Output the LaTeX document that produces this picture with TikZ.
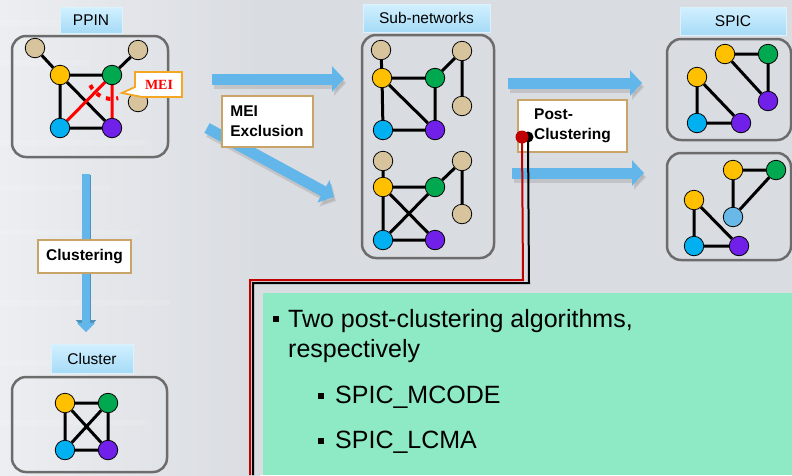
\documentclass[tikz,border=0pt]{standalone}
\usepackage{fontspec}
\setmainfont{Liberation Sans}
\newfontfamily\serifb{Liberation Serif}
\usetikzlibrary{arrows.meta,backgrounds}
\pgfdeclarelayer{bg}\pgfdeclarelayer{edges}
\pgfsetlayers{bg,edges,main}
\definecolor{bgray}{HTML}{D9DCE1}
\definecolor{blight}{HTML}{ECEEF1}
\definecolor{ctan}{HTML}{D8C49C}
\definecolor{cyel}{HTML}{FFC000}
\definecolor{cgrn}{HTML}{00A850}
\definecolor{ccya}{HTML}{00B0F0}
\definecolor{cpur}{HTML}{7020E8}
\definecolor{clbl}{HTML}{68B8E8}
\definecolor{arrblue}{HTML}{62B6E9}
\definecolor{tagtop}{HTML}{D2F0FF}
\definecolor{tagbot}{HTML}{A6DBF7}
\definecolor{boxtan}{HTML}{C8A468}
\definecolor{meiorange}{HTML}{F5A623}
\definecolor{mint}{HTML}{8EE9C5}
\definecolor{dred}{HTML}{C00000}
\tikzset{
  nd/.style={circle,draw=black,line width=0.8pt,minimum size=19.5pt,inner sep=0pt},
  ed/.style={line width=3pt,black},
  redge/.style={line width=3pt,red},
  roundbox/.style={draw=gray!85!black,line width=2.5pt,rounded corners=14pt,inner sep=0pt},
  tagbox/.style={top color=tagtop,bottom color=tagbot,draw=white!60!tagbot,line width=0.6pt,inner sep=0pt,font=\fontsize{15.5}{18}\selectfont},
  notebox/.style={fill=white,draw=boxtan,line width=2pt,inner sep=0pt,align=left,font=\bfseries\fontsize{15.5}{19.5}\selectfont},
  blockarrow/.style={line width=11pt,arrblue,-{Triangle[length=12pt,width=25pt]}},
  arrshadow/.style={line width=11pt,gray!70,opacity=0.45,-{Triangle[length=12pt,width=25pt]}},
  bigtext/.style={anchor=base west,inner sep=0pt,font=\fontsize{25}{30}\selectfont},
  sqbullet/.style={fill=black,minimum size=6pt,inner sep=0pt}
}
\begin{document}
\begin{tikzpicture}[x=1pt,y=-1pt]
\useasboundingbox (0,0) rectangle (792,475);
\begin{pgfonlayer}{bg}
\fill[bgray] (0,0) rectangle (792,475);
\fill[left color=blight,right color=bgray] (0,0) rectangle (260,475);
\foreach \yy/\ww in {20/120,60/90,140/150,185/110,230/140,300/170,360/120,420/150}
  \fill[white,opacity=0.12] (0,\yy) rectangle (\ww,\yy+5);
% rounded boxes
\node[roundbox,minimum width=156pt,minimum height=121pt] (ppinbox) at (90,96.5) {};
\node[roundbox,minimum width=132pt,minimum height=223pt] (subbox) at (428,146.5) {};
\node[roundbox,minimum width=124pt,minimum height=101pt] (spicA) at (729,89.5) {};
\node[roundbox,minimum width=124pt,minimum height=107pt] (spicB) at (729,206.5) {};
\node[roundbox,minimum width=155pt,minimum height=95pt] (clbox) at (89.5,424.5) {};
% block arrows
\coordinate (a1s) at (212,79); \coordinate (a1e) at (344,79);
\coordinate (a2s) at (207,128); \coordinate (a2e) at (334,197);
\coordinate (a3s) at (508,83); \coordinate (a3e) at (642,83);
\coordinate (a4s) at (512,173); \coordinate (a4e) at (644,173);
\coordinate (a5s) at (86,175); \coordinate (a5e) at (86,331);
\foreach \s/\e in {a1s/a1e,a2s/a2e,a3s/a3e,a4s/a4e}{
  \draw[arrshadow] ([shift={(2,4)}]\s) -- ([shift={(2,4)}]\e);
  \draw[blockarrow] (\s) -- (\e);
}
\draw[line width=9pt,arrblue!80!black,-{Triangle[length=11pt,width=20pt]}] (a5s) -- (a5e);
\draw[line width=7.5pt,arrblue,-{Triangle[length=9pt,width=17pt]}] ([yshift=0.8]a5s) -- ([yshift=-1.2]a5e);
% connector lines
\coordinate (rdot) at (522,137); \coordinate (rk1) at (523,280); \coordinate (rk2) at (250,280); \coordinate (rend) at (250,475);
\coordinate (bdot) at (528,137); \coordinate (bk1) at (529,283); \coordinate (bk2) at (253,283); \coordinate (bend) at (253,475);
\fill[mint] (263,293) rectangle (792,475);
\end{pgfonlayer}
% ---------- PPIN ----------
\node[tagbox,minimum width=62pt,minimum height=26pt] (ppintag) at (91,20) {PPIN};
\node[nd,fill=ctan] (p1) at (35,48) {};
\node[nd,fill=cyel] (p2) at (60,75) {};
\node[nd,fill=cgrn] (p3) at (112,75) {};
\node[nd,fill=ctan] (p4) at (138,50) {};
\node[nd,fill=ctan] (p5) at (138,102) {};
\node[nd,fill=ccya] (p6) at (60,128) {};
\node[nd,fill=cpur] (p7) at (112,128) {};
\begin{pgfonlayer}{edges}
\draw[ed] (p1)--(p2) (p2)--(p3) (p3)--(p4) (p2)--(p6) (p2)--(p7) (p6)--(p7);
\draw[redge] (p6)--(p3) (p3)--(p7);
\end{pgfonlayer}
\draw[red,line width=4pt,dash pattern=on 4.5pt off 6pt] ([shift={(155:24)}]p3.center) arc[start angle=155,end angle=75,radius=24];
% MEI callout
\coordinate (meitip) at (122,93);
\filldraw[fill=white,draw=meiorange,line width=1.8pt] (135,72) -- (182,72) -- (182,97) -- (142,97) -- (meitip) -- (135,87) -- cycle;
\node[text=red,font=\serifb\bfseries\fontsize{14}{16}\selectfont] (mei) at (159,84.5) {MEI};
% MEI Exclusion
\node[notebox,minimum width=91pt,minimum height=51pt] (meiex) at (267,121) {MEI\\Exclusion};
% ---------- Sub-networks ----------
\node[tagbox,minimum width=127pt,minimum height=28pt] (subtag) at (426.5,18) {Sub-networks};
\node[nd,fill=ctan] (s1) at (381,50) {};
\node[nd,fill=cyel] (s2) at (382,78) {};
\node[nd,fill=cgrn] (s3) at (435,78) {};
\node[nd,fill=ctan] (s4) at (462,51) {};
\node[nd,fill=ctan] (s5) at (462,106) {};
\node[nd,fill=ccya] (s6) at (383,130) {};
\node[nd,fill=cpur] (s7) at (435,130) {};
\node[nd,fill=ctan] (u1) at (383,161) {};
\node[nd,fill=cyel] (u2) at (383,187) {};
\node[nd,fill=cgrn] (u3) at (435,187) {};
\node[nd,fill=ctan] (u4) at (462,161) {};
\node[nd,fill=ctan] (u5) at (462,214) {};
\node[nd,fill=ccya] (u6) at (383,240) {};
\node[nd,fill=cpur] (u7) at (435,240) {};
\begin{pgfonlayer}{edges}
\draw[ed] (s1)--(s2) (s2)--(s3) (s3)--(s4) (s4)--(s5) (s2)--(s6) (s2)--(s7) (s3)--(s7) (s6)--(s7);
\draw[ed] (u1)--(u2) (u2)--(u3) (u3)--(u4) (u4)--(u5) (u2)--(u6) (u2)--(u7) (u3)--(u6) (u6)--(u7);
\end{pgfonlayer}
% Post-Clustering
\node[notebox,minimum width=109pt,minimum height=52pt] (postc) at (572.5,126) {Post-\\Clustering};
\draw[black,line width=2pt] (bdot) -- (bk1) -- (bk2) -- (bend);
\draw[dred,line width=2pt] (rdot) -- (rk1) -- (rk2) -- (rend);
\fill[black] (bdot) circle (5.5pt);
\fill[dred] (rdot) circle (6.5pt);
% ---------- SPIC ----------
\node[tagbox,minimum width=106pt,minimum height=28pt] (spictag) at (733,21) {SPIC};
\node[nd,fill=cyel] (q1) at (725,54) {};
\node[nd,fill=cgrn] (q2) at (768,54) {};
\node[nd,fill=cpur] (q3) at (768,101) {};
\node[nd,fill=cyel] (q4) at (697,77) {};
\node[nd,fill=ccya] (q5) at (697,123) {};
\node[nd,fill=cpur] (q6) at (741,123) {};
\node[nd,fill=cyel] (r1) at (733,170) {};
\node[nd,fill=cgrn] (r2) at (776,170) {};
\node[nd,fill=clbl] (r3) at (733,217) {};
\node[nd,fill=cyel] (r4) at (694,200) {};
\node[nd,fill=ccya] (r5) at (694,246) {};
\node[nd,fill=cpur] (r6) at (739,246) {};
\begin{pgfonlayer}{edges}
\draw[ed] (q1)--(q2) (q2)--(q3) (q1)--(q3) (q4)--(q5) (q4)--(q6) (q5)--(q6);
\draw[ed] (r1)--(r2) (r1)--(r3) (r2)--(r3) (r4)--(r5) (r4)--(r6) (r5)--(r6);
\end{pgfonlayer}
% ---------- Clustering / Cluster ----------
\node[notebox,minimum width=93pt,minimum height=33pt] (clus) at (84.5,256.5) {Clustering};
\node[tagbox,minimum width=82pt,minimum height=29pt] (cltag) at (92,358.5) {Cluster};
\node[nd,fill=cyel] (c1) at (65,403) {};
\node[nd,fill=cgrn] (c2) at (108,403) {};
\node[nd,fill=ccya] (c3) at (65,450) {};
\node[nd,fill=cpur] (c4) at (108,450) {};
\begin{pgfonlayer}{edges}
\draw[ed] (c1)--(c2) (c1)--(c3) (c1)--(c4) (c2)--(c3) (c2)--(c4) (c3)--(c4);
\end{pgfonlayer}
% ---------- text panel ----------
\node[sqbullet] (b1) at (276,318.5) {};
\node[bigtext] (t1) at (288,327) {Two post-clustering algorithms,};
\node[bigtext] (t2) at (288,357) {respectively};
\node[sqbullet] (b2) at (321,395.5) {};
\node[bigtext] (t3) at (335,403) {SPIC\_MCODE};
\node[sqbullet] (b3) at (321,440.5) {};
\node[bigtext] (t4) at (335,448) {SPIC\_LCMA};
\end{tikzpicture}
\end{document}
